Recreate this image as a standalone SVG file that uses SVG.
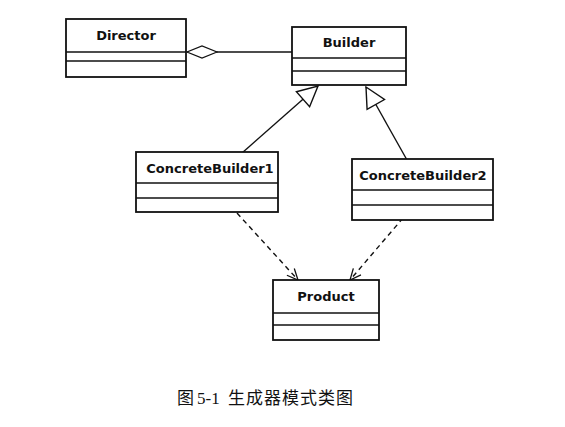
<svg xmlns="http://www.w3.org/2000/svg" width="565" height="427" viewBox="0 0 565 427">
<style>
.box{fill:#fff;stroke:#111;stroke-width:1.8}
.div{stroke:#111;stroke-width:1.6}
.lbl{font-family:"DejaVu Sans",sans-serif;font-weight:bold;font-size:13px;fill:#111;text-anchor:middle}
.conn{stroke:#111;stroke-width:1.4;fill:none}
.dash{stroke-dasharray:5,4}
.cap{font-family:"Liberation Serif","Noto Sans CJK SC",serif;font-size:17px;fill:#111}
</style>
<defs>
<marker id="tri" markerWidth="24" markerHeight="24" viewBox="0 0 24 24" refX="22" refY="12" orient="auto" markerUnits="userSpaceOnUse">
<path d="M2,2 L22,12 L2,22 Z" fill="#fff" stroke="#111" stroke-width="1.4"/>
</marker>
<marker id="open" markerWidth="14" markerHeight="14" viewBox="0 0 14 14" refX="12" refY="7" orient="auto" markerUnits="userSpaceOnUse">
<path d="M1,2 L12,7 L1,12" fill="none" stroke="#111" stroke-width="1.3"/>
</marker>
<marker id="dia" markerWidth="32" markerHeight="14" viewBox="0 0 32 14" refX="31" refY="7" orient="auto" markerUnits="userSpaceOnUse">
<path d="M1,7 L16,1 L31,7 L16,13 Z" fill="#fff" stroke="#111" stroke-width="1.3"/>
</marker>
</defs>
<g id="connectors">
<line class="conn" x1="292" y1="52" x2="187" y2="52" marker-end="url(#dia)"/>
<line class="conn" x1="242" y1="153" x2="318" y2="86" marker-end="url(#tri)"/>
<line class="conn" x1="407" y1="160" x2="366" y2="87" marker-end="url(#tri)"/>
<line class="conn dash" x1="237" y1="213" x2="298" y2="280" marker-end="url(#open)"/>
<line class="conn dash" x1="403" y1="218" x2="350" y2="280" marker-end="url(#open)"/>
</g>
<g id="director">
<rect class="box" x="66" y="19" width="120" height="58"/>
<line class="div" x1="66" y1="52" x2="186" y2="52"/>
<line class="div" x1="66" y1="61" x2="186" y2="61"/>
<text class="lbl" x="126" y="40">Director</text>
</g>
<g id="builder">
<rect class="box" x="292" y="27" width="114" height="58"/>
<line class="div" x1="292" y1="58" x2="406" y2="58"/>
<line class="div" x1="292" y1="71" x2="406" y2="71"/>
<text class="lbl" x="349" y="47">Builder</text>
</g>
<g id="concretebuilder1">
<rect class="box" x="136" y="152" width="142" height="60"/>
<line class="div" x1="136" y1="183" x2="278" y2="183"/>
<line class="div" x1="136" y1="198" x2="278" y2="198"/>
<text class="lbl" x="210" y="173">ConcreteBuilder1</text>
</g>
<g id="concretebuilder2">
<rect class="box" x="352" y="159" width="141" height="61"/>
<line class="div" x1="352" y1="190" x2="493" y2="190"/>
<line class="div" x1="352" y1="205" x2="493" y2="205"/>
<text class="lbl" x="423" y="180">ConcreteBuilder2</text>
</g>
<g id="product">
<rect class="box" x="273" y="280" width="106" height="60"/>
<line class="div" x1="273" y1="313" x2="379" y2="313"/>
<line class="div" x1="273" y1="325" x2="379" y2="325"/>
<text class="lbl" x="326" y="301">Product</text>
</g>
<text class="cap" y="404"><tspan x="177">图</tspan><tspan x="197">5-1</tspan><tspan x="228" textLength="125">生成器模式类图</tspan></text>
</svg>
